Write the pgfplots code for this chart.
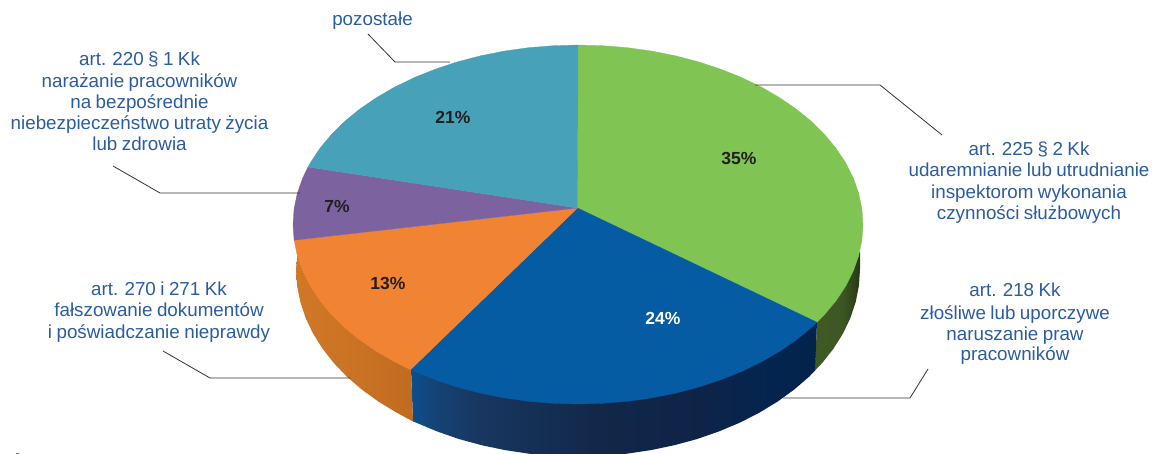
\documentclass[border=0pt]{standalone}
\usepackage{pgfplots}
\pgfplotsset{compat=1.18}
\usepackage{fontspec}
\setmainfont[WordSpace=0.85]{Liberation Sans}

\definecolor{labelblue}{HTML}{2B5CA0}
\definecolor{numdark}{HTML}{231F20}
\definecolor{leader}{HTML}{333333}
\definecolor{sharegreen}{HTML}{80C454}
\definecolor{shareblue}{HTML}{055CA3}
\definecolor{shareorange}{HTML}{F18432}
\definecolor{sharepurple}{HTML}{7C629F}
\definecolor{shareteal}{HTML}{47A2B9}

% Wall shadings: the path's bounding box spans 25bp to 75bp
\pgfdeclarehorizontalshading{wallblue}{100bp}{
  rgb(0bp)=(.04,.31,.56); rgb(25bp)=(.04,.31,.56); rgb(27.5bp)=(.08,.27,.47);
  rgb(33bp)=(.095,.215,.38); rgb(48bp)=(.07,.155,.285); rgb(60.5bp)=(.055,.14,.28);
  rgb(70bp)=(.012,.14,.31); rgb(75bp)=(.008,.14,.29); rgb(100bp)=(.008,.14,.29)}
\pgfdeclarehorizontalshading{wallorange}{100bp}{
  rgb(0bp)=(.82,.47,.15); rgb(25bp)=(.82,.47,.15); rgb(50bp)=(.79,.45,.14);
  rgb(75bp)=(.75,.42,.13); rgb(100bp)=(.75,.42,.13)}
\pgfdeclarehorizontalshading{wallgreen}{100bp}{
  rgb(0bp)=(.25,.35,.14); rgb(25bp)=(.25,.35,.14); rgb(55bp)=(.24,.34,.14);
  rgb(75bp)=(.15,.22,.09); rgb(100bp)=(.15,.22,.09)}

\newcommand{\lab}[3]{\node[anchor=base,inner sep=0pt,text=labelblue,
  font=\fontsize{18.8}{20}\selectfont] at (axis cs:#1,#2) {#3};}
\newcommand{\pct}[4]{\node[inner sep=0pt,text=#4,
  font=\fontsize{17.5}{20}\selectfont\bfseries] at (axis cs:#1,#2) {#3};}

\begin{document}
\begin{tikzpicture}
\useasboundingbox (0,0) rectangle (1156pt,454pt);
\begin{axis}[
  at={(0,0)}, anchor=south west,
  scale only axis, width=1156pt, height=454pt,
  xmin=0, xmax=1156, ymin=0, ymax=454, y dir=reverse,
  hide axis, clip=true,
  every axis plot/.append style={line join=round}
]
% Side walls of the disc
\addplot[draw=none, shade, shading=wallgreen] coordinates {
  (860,252) (860,269.5) (858.9,285.8) (855.7,302) (850.4,317.9) (843,333.5)
  (833.6,348.5) (822.2,363) (815,370.5) (817,322) (835,255)} --cycle;
\addplot[draw=none, shade, shading=wallblue] coordinates {
  (817,322) (815,370.5) (809,376.8) (794,389.7) (777.4,401.7) (759.3,412.7)
  (739.8,422.7) (719,431.4) (697.2,439) (674.4,445.2) (651,450.1) (627,453.7)
  (602.6,455.8) (578,456.5) (553.4,455.8) (529,453.7) (505,450.1) (481.6,445.2)
  (458.8,439) (437,431.4) (416.2,422.7) (413,421.5) (411,369) (578,380)} --cycle;
\addplot[draw=none, shade, shading=wallorange] coordinates {
  (297.3,256) (296,269.5) (297.1,285.8) (300.3,302) (305.6,317.9) (313,333.5)
  (322.4,348.5) (333.8,363) (347,376.8) (362,389.7) (378.6,401.7) (396.7,412.7)
  (413,421.5) (411,369) (340,280)} --cycle;

% Top face: 35, 24, 13, 7 and 21 per cent
\addplot[draw=sharegreen, line width=.3pt, fill=sharegreen] coordinates {
  (577.5,208) (578,45) (602.9,45.7) (627.5,47.7) (651.8,51.1) (675.5,55.8)
  (698.4,61.8) (720.5,69.1) (741.5,77.5) (761.2,87) (779.5,97.6) (796.3,109.1)
  (811.5,121.5) (824.8,134.75) (836.3,148.6) (845.8,163.1) (853.3,178)
  (858.7,193.3) (861.9,208.8) (863,224.5) (861.9,240.2) (858.7,255.7)
  (853.3,271) (845.8,285.9) (836.3,300.4) (824.8,314.25) (817,322.3)} --cycle;
\addplot[draw=shareblue, line width=.3pt, fill=shareblue] coordinates {
  (577.5,208) (817,322.3) (811.5,327.5) (796.3,339.9) (779.5,351.4) (761.2,362)
  (741.5,371.5) (720.5,379.9) (698.4,387.2) (675.5,393.2) (651.8,397.9)
  (627.5,401.3) (602.9,403.3) (578,404) (553.1,403.3) (528.5,401.3) (504.2,397.9)
  (480.5,393.2) (457.6,387.2) (435.5,379.9) (410.5,369.7)} --cycle;
\addplot[draw=shareorange, line width=.3pt, fill=shareorange] coordinates {
  (577.5,208) (410.5,369.7) (394.8,362) (376.5,351.4) (359.7,339.9) (344.5,327.5)
  (331.2,314.25) (319.7,300.4) (310.2,285.9) (302.7,271) (297.3,255.7)
  (294.1,240.2)} --cycle;
\addplot[draw=sharepurple, line width=.3pt, fill=sharepurple] coordinates {
  (577.5,208) (294.1,240.2) (293,224.5) (294.1,208.8) (297.3,193.3) (302.7,178)
  (308,167)} --cycle;
\addplot[draw=shareteal, line width=.3pt, fill=shareteal] coordinates {
  (577.5,208) (308,167) (310.2,163.1) (319.7,148.6) (331.2,134.75) (344.5,121.5)
  (359.7,109.1) (376.5,97.6) (394.8,87) (414.5,77.5) (435.5,69.1) (457.6,61.8)
  (480.5,55.8) (504.2,51.1) (528.5,47.7) (553.1,45.7) (578,45)} --cycle;

% Leader lines
\addplot[leader, line width=.8pt] coordinates {(368,34) (395,62) (450,62)};
\addplot[leader, line width=.8pt] coordinates {(755,85) (880,85) (942,135)};
\addplot[leader, line width=.8pt] coordinates {(783,398) (910,398) (928,369)};
\addplot[leader, line width=.8pt] coordinates {(113,166) (160,193) (300,193)};
\addplot[leader, line width=.8pt] coordinates {(163,351) (210,378) (350,378)};
\addplot[leader!70, line width=.6pt] coordinates {(16,453.5) (19,453.5)};

% Share labels
\pct{739}{158}{35\%}{numdark}
\pct{453}{117}{21\%}{numdark}
\pct{337}{206}{7\%}{numdark}
\pct{388}{283}{13\%}{numdark}
\pct{663}{318}{24\%}{white}

% Category labels
\lab{372.5}{26}{pozostałe}
\lab{139.5}{66}{art. 220 § 1 Kk}
\lab{139.5}{87.5}{narażanie pracowników}
\lab{139.5}{108.5}{na bezpośrednie}
\lab{139.5}{130}{niebezpieczeństwo utraty życia}
\lab{139.5}{151}{lub zdrowia}
\lab{159}{295.7}{art. 270 i 271 Kk}
\lab{159}{316.7}{fałszowanie dokumentów}
\lab{159}{338.3}{i poświadczanie nieprawdy}
\lab{1029}{155.7}{art. 225 § 2 Kk}
\lab{1029}{176.7}{udaremnianie lub utrudnianie}
\lab{1029}{199}{inspektorom wykonania}
\lab{1029}{220}{czynności służbowych}
\lab{1015}{296.7}{art. 218 Kk}
\lab{1015}{319.3}{złośliwe lub uporczywe}
\lab{1015}{340}{naruszanie praw}
\lab{1015}{360.7}{pracowników}
\end{axis}
\end{tikzpicture}
\end{document}
